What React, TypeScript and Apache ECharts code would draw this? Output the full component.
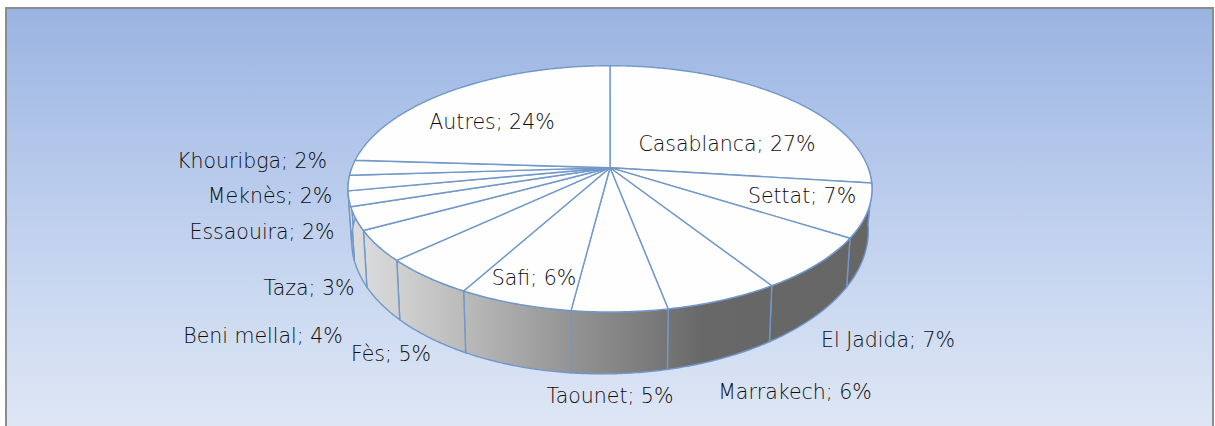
import React, { useEffect, useRef } from "react";
import * as echarts from "echarts";

const categories = ["Casablanca", "Settat", "El Jadida", "Marrakech", "Taounet", "Safi", "Fès", "Beni mellal", "Taza", "Essaouira", "Meknès", "Khouribga", "Autres"];
const values = [27, 7, 7, 6, 5, 6, 5, 4, 3, 2, 2, 2, 24];

// Label centres in page pixels, same order as the categories.
const labelX = [727, 802, 888, 795, 610, 534, 391, 263, 309, 262, 270, 252, 492];
const labelY = [144, 196, 340, 392, 396, 278, 354, 336, 288, 232, 196, 161, 122];

const total = values.reduce((a, b) => a + b, 0);
const startFraction = (i: number) => values.slice(0, i).reduce((a, b) => a + b, 0) / total;

// Perspective projection of the pie's disc.
const CX = 610;
const K = 0.1717;
const project = (deg: number, lower: boolean): number[] => {
  const t = (deg * Math.PI) / 180;
  const u = Math.sin(t);
  const v = Math.cos(t);
  const d = 1 + K * v;
  if (lower) return [CX + (254.5 * u) / d, 212.3 - (133.8 * v) / d - 5 * u];
  return [CX + (258.1 * u) / d, 167.7 - (119.5 * v) / d];
};
const arc = (a: number, b: number, lower: boolean) => {
  const pts: number[][] = [];
  const n = Math.max(2, Math.ceil(Math.abs(b - a) * 2));
  for (let i = 0; i <= n; i++) pts.push(project(a + ((b - a) * i) / n, lower));
  return pts;
};

const EDGE = "#7198c9";

export default function App() {
  const ref = useRef<HTMLDivElement>(null);
  useEffect(() => {
    document.body.style.margin = "0";
    const chart = echarts.init(ref.current!, undefined, { renderer: "svg" });
    const sideFill = new echarts.graphic.LinearGradient(352, 0, 868, 0, [
      { offset: 0, color: "#dcdddf" },
      { offset: 0.1, color: "#cfcfcf" },
      { offset: 0.22, color: "#bababa" },
      { offset: 0.42, color: "#949494" },
      { offset: 0.56, color: "#7e7e7e" },
      { offset: 0.68, color: "#686868" },
      { offset: 1, color: "#666666" },
    ], true);
    const data = values.map((v) => v);
    chart.setOption({
      animation: false,
      backgroundColor: "#ffffff",
      tooltip: { show: false },
      graphic: [
        {
          type: "rect",
          silent: true,
          z: 0,
          shape: { x: 6, y: 8, width: 1207, height: 424 },
          style: {
            fill: new echarts.graphic.LinearGradient(0, 0, 0, 1, [
              { offset: 0, color: "#9ab4e2" },
              { offset: 0.5, color: "#bfd0ee" },
              { offset: 1, color: "#dfe7f5" },
            ]),
            stroke: "#8c8c8c",
            lineWidth: 2,
          },
        },
      ],
      series: [
        {
          type: "custom",
          coordinateSystem: "none",
          silent: true,
          z: 2,
          data,
          renderItem: (params: any) => {
            const i = params.dataIndex;
            const a = Math.max(startFraction(i) * 360, 90);
            const b = Math.min(startFraction(i + 1) * 360, 270);
            if (b <= a) return { type: "group", children: [] };
            const pts = [...arc(a, b, false), ...arc(b, a, true)];
            return {
              type: "polygon",
              shape: { points: pts },
              style: { fill: sideFill, stroke: EDGE, lineWidth: 1.4 },
            };
          },
        },
        {
          type: "custom",
          coordinateSystem: "none",
          silent: true,
          z: 3,
          data,
          renderItem: (params: any) => {
            const i = params.dataIndex;
            const a = startFraction(i) * 360;
            const b = startFraction(i + 1) * 360;
            const pts = [[CX, 167.7], ...arc(a, b, false)];
            return {
              type: "polygon",
              shape: { points: pts },
              style: { fill: "#fefefe", stroke: EDGE, lineWidth: 1.4, lineJoin: "round" },
            };
          },
        },
        {
          type: "custom",
          coordinateSystem: "none",
          silent: true,
          z: 4,
          data,
          renderItem: (params: any, api: any) => {
            const i = params.dataIndex;
            const pct = Math.round((api.value(0) / total) * 100);
            return {
              type: "text",
              style: {
                text: `${categories[i]}; ${pct}%`,
                x: labelX[i],
                y: labelY[i],
                align: "center",
                verticalAlign: "middle",
                font: '300 20.5px "DejaVu Sans", sans-serif',
                fill: "#0d0d0d",
              },
            };
          },
        },
      ],
    });
    return () => chart.dispose();
  }, []);
  return <div ref={ref} style={{ width: 1215, height: 426 }} />;
}
